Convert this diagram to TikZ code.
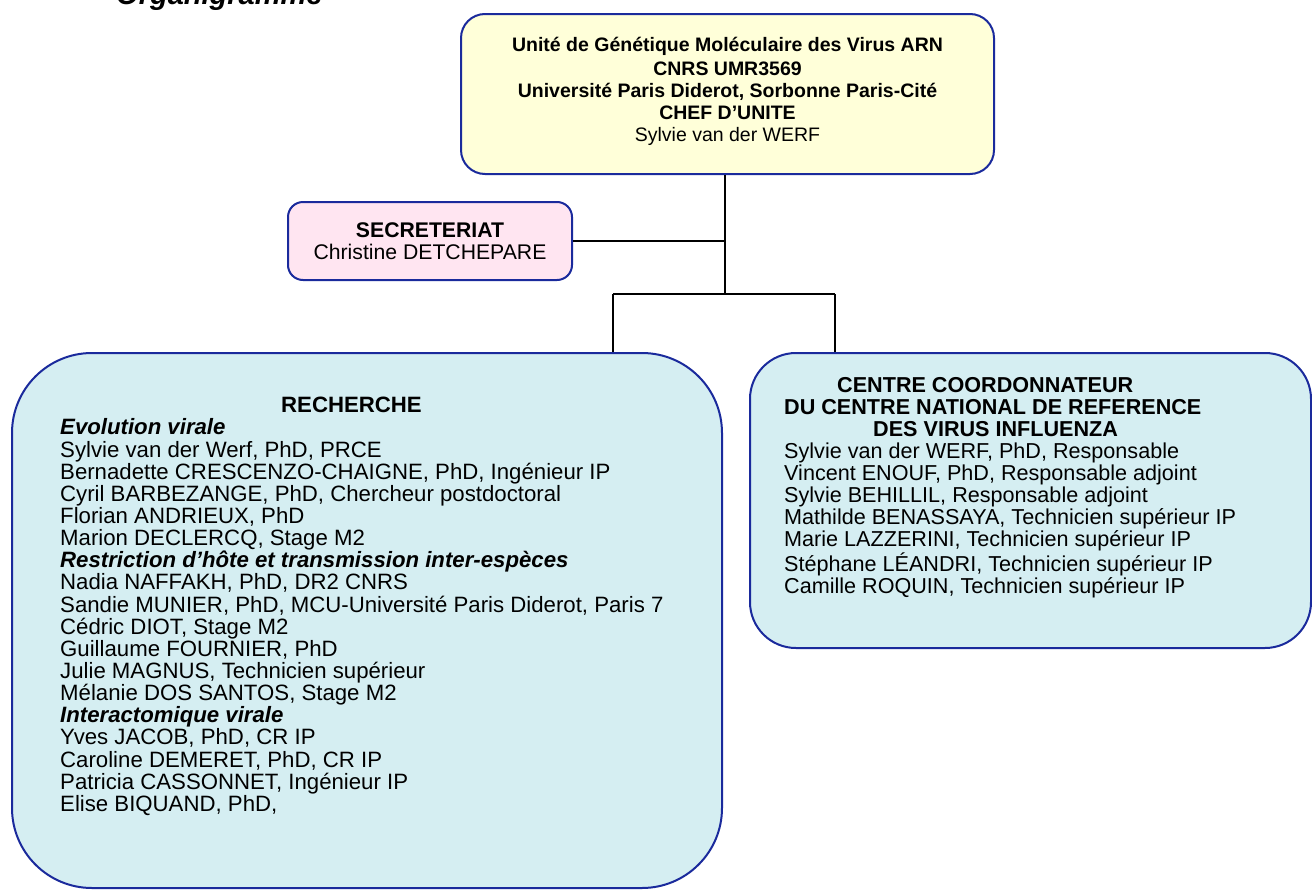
\documentclass[tikz,border=0pt]{standalone}
\usepackage{fontspec}
\setmainfont{Liberation Sans}
\definecolor{boxline}{HTML}{1A2A9C}
\definecolor{chefyel}{HTML}{FFFFD9}
\definecolor{secpink}{HTML}{FFE5F1}
\definecolor{teamblue}{HTML}{D5EEF2}
\tikzset{
  orgbox/.style={draw=boxline,line width=2pt,inner sep=0pt},
  chefb/.style={fill=chefyel,rounded corners=24pt,minimum width=533pt,minimum height=160pt,align=center,font=\fontsize{19.5}{22}\selectfont},
  secb/.style={fill=secpink,rounded corners=15pt,minimum width=284pt,minimum height=78pt,align=center,font=\fontsize{21.2}{22}\selectfont},
  teamb/.style={fill=teamblue},
  txt/.style={inner sep=0pt,align=left,anchor=north west},
  link/.style={line width=2.6pt}
}
\newcommand{\grp}[1]{\textbf{\textit{#1}}}

\begin{document}
\begin{tikzpicture}[x=1pt,y=-1pt]
\useasboundingbox (0,0) rectangle (1312,889);
% titre, coupe en haut
\node[inner sep=0pt,anchor=base west,font=\bfseries\itshape\fontsize{29}{30}\selectfont] (titre) at (116,4) {Organigramme};

\coordinate (fork) at (725,294);
\coordinate (forkL) at (613,294);
\coordinate (forkR) at (835,294);

% boites
\node[orgbox,chefb] (chef) at (727.5,94) {\raisebox{2pt}{\textbf{Unité de Génétique Moléculaire des Virus ARN}}\\
  \textbf{CNRS UMR3569}\\
  \textbf{Université Paris Diderot, Sorbonne Paris-Cité}\\
  \textbf{CHEF D’UNITE}\\
  Sylvie van der WERF\rule[-9pt]{0pt}{1pt}};
\node[orgbox,secb] (sec) at (430,241) {\textbf{SECRETERIAT}\\Christine DETCHEPARE};
\node[orgbox,teamb,rounded corners=80pt,minimum width=710pt,minimum height=535pt] (rech) at (367,620.5) {};
\node[orgbox,teamb,rounded corners=46pt,minimum width=561pt,minimum height=295pt] (cnr) at (1030.5,500.5) {};

% liens
\draw[link] (chef.south -| fork) -- (fork);
\draw[link] (sec.east) -- (sec.east -| fork);
\draw[link] (forkL) -- (forkR);
\draw[link] (forkL) -- (forkL |- rech.north);
\draw[link] (forkR) -- (forkR |- cnr.north);

% textes
\node[txt,font=\fontsize{22.2}{22.15}\selectfont] (rechtxt) at (60,397) {\hspace*{221pt}\textbf{RECHERCHE}\\
  \grp{Evolution virale}\\
  Sylvie van der Werf, PhD, PRCE\\
  Bernadette CRESCENZO-CHAIGNE, PhD, Ingénieur IP\\
  Cyril BARBEZANGE, PhD, Chercheur postdoctoral\\
  Florian ANDRIEUX, PhD\\
  Marion DECLERCQ, Stage M2\\
  \grp{Restriction d’hôte et transmission inter-espèces}\\
  Nadia NAFFAKH, PhD, DR2 CNRS\\
  Sandie MUNIER, PhD, MCU-Université Paris Diderot, Paris 7\\
  Cédric DIOT, Stage M2\\
  Guillaume FOURNIER, PhD\\
  Julie MAGNUS, Technicien supérieur\\
  Mélanie DOS SANTOS, Stage M2\\
  \grp{Interactomique virale}\\
  Yves JACOB, PhD, CR IP\\
  Caroline DEMERET, PhD, CR IP\\
  Patricia CASSONNET, Ingénieur IP\\
  Elise BIQUAND, PhD,};
\node[txt,font=\fontsize{21.6}{22.1}\selectfont] (cnrtxt) at (784,377) {\hspace*{53pt}\textbf{CENTRE COORDONNATEUR}\\
  \textbf{DU CENTRE NATIONAL DE REFERENCE}\\
  \hspace*{89pt}\textbf{DES VIRUS INFLUENZA}\\
  Sylvie van der WERF, PhD, Responsable\\
  Vincent ENOUF, PhD, Responsable adjoint\\
  Sylvie BEHILLIL, Responsable adjoint\\
  Mathilde BENASSAYA, Technicien supérieur IP\\
  Marie LAZZERINI, Technicien supérieur IP\\
  Stéphane LÉANDRI, Technicien supérieur IP\\
  Camille ROQUIN, Technicien supérieur IP};
\end{tikzpicture}
\end{document}
